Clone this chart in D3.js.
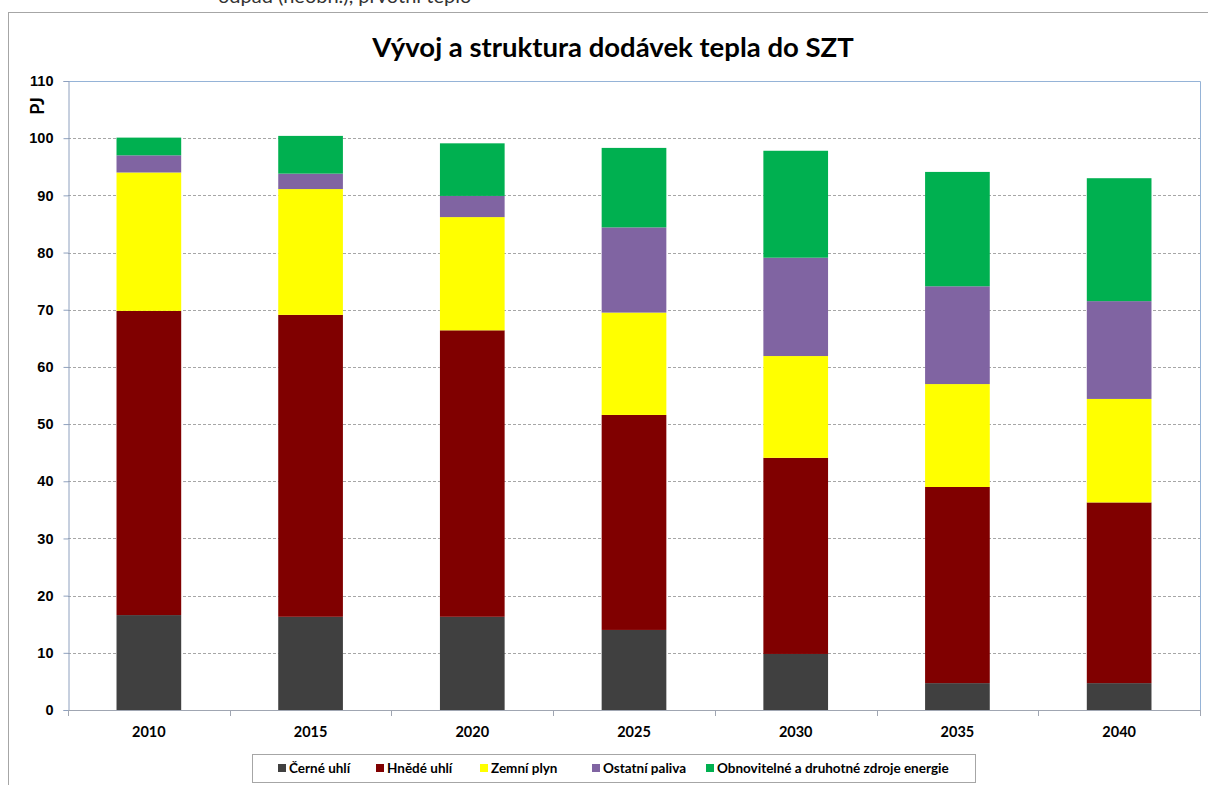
<html lang="cs">
<head>
<meta charset="utf-8">
<title>Vývoj a struktura dodávek tepla do SZT</title>
<style>
  body { margin: 0; background: white; }
  svg { display: block; font-family: Lato, "Open Sans", sans-serif; }
  .grid line { stroke: #a6a6a6; stroke-dasharray: 3,2; }
  .axis text { font-weight: bold; font-size: 14.5px; fill: #000; }
  .legend text { font-size: 13.5px; font-weight: bold; fill: #000; }
</style>
</head>
<body>
<script src="https://cdn.jsdelivr.net/npm/d3@7"></script>
<script>
// data (PJ)
var years = ["2010", "2015", "2020", "2025", "2030", "2035", "2040"];
var seriesNames = ["Černé uhlí", "Hnědé uhlí", "Zemní plyn", "Ostatní paliva", "Obnovitelné a druhotné zdroje energie"];
var cerneUhli   = [16.6, 16.3, 16.3, 14.0,  9.8,  4.7,  4.7];
var hnedeUhli   = [53.2, 52.8, 50.1, 37.6, 34.3, 34.3, 31.6];
var zemniPlyn   = [24.2, 22.0, 19.8, 17.9, 17.8, 18.0, 18.1];
var ostatni     = [ 3.0,  2.7,  3.7, 14.9, 17.2, 17.1, 17.1];
var obnovitelne = [ 3.1,  6.6,  9.2, 13.9, 18.7, 20.0, 21.5];
var yTicks = [0, 10, 20, 30, 40, 50, 60, 70, 80, 90, 100, 110];
var colors = ["#404040", "#800000", "#ffff00", "#8064a2", "#00b050"];

var W = 1208, H = 785;
var plot = {left: 68, top: 81, right: 1200, bottom: 710};

var svg = d3.select("body").append("svg")
    .attr("width", W).attr("height", H);

// caption left over above the chart, cut by the top edge as in the source
svg.append("text")
    .attr("x", 218).attr("y", 3)
    .attr("font-size", 20).attr("fill", "#333")
    .text("odpad (neobn.), prvotní teplo");

// chart area frame
svg.append("rect")
    .attr("x", 8.5).attr("y", 12.5)
    .attr("width", 1400).attr("height", 900)
    .attr("fill", "white").attr("stroke", "#a6a6a6");

svg.append("text")
    .attr("x", 613).attr("y", 57)
    .attr("text-anchor", "middle")
    .attr("font-size", 27.5).attr("font-weight", "bold")
    .text("Vývoj a struktura dodávek tepla do SZT");

var table = years.map(function(y, i) {
  return {year: y, s0: cerneUhli[i], s1: hnedeUhli[i], s2: zemniPlyn[i], s3: ostatni[i], s4: obnovitelne[i]};
});
var keys = ["s0", "s1", "s2", "s3", "s4"];
var stacked = d3.stack().keys(keys)(table);

var x = d3.scaleBand().domain(years)
    .range([plot.left, plot.right])
    .paddingInner(0.6).paddingOuter(0.3);
var y = d3.scaleLinear().domain([0, 110]).range([plot.bottom, plot.top]);

// gridlines
svg.append("g").attr("class", "grid")
  .selectAll("line").data(yTicks.filter(function(d) { return d > 0 && d < 110; }))
  .enter().append("line")
    .attr("x1", plot.left).attr("x2", plot.right)
    .attr("y1", function(d) { return Math.round(y(d)) + 0.5; })
    .attr("y2", function(d) { return Math.round(y(d)) + 0.5; });

// plot area border (top + right)
svg.append("path")
    .attr("d", "M" + plot.left + "," + (plot.top + 0.5) + "H" + (plot.right + 0.5) + "V" + plot.bottom)
    .attr("fill", "none").attr("stroke", "#95b3d7");

// bars
svg.append("g").selectAll("g").data(stacked).enter().append("g")
    .attr("fill", function(d, i) { return colors[i]; })
  .selectAll("rect").data(function(d) { return d; }).enter().append("rect")
    .attr("x", function(d) { return x(d.data.year); })
    .attr("width", x.bandwidth())
    .attr("y", function(d) { return y(d[1]); })
    .attr("height", function(d) { return y(d[0]) - y(d[1]); });

// y axis
var yAxis = d3.axisLeft(y).tickValues(yTicks).tickSize(5).tickPadding(10);
var gy = svg.append("g").attr("class", "axis")
    .attr("transform", "translate(" + (plot.left + 0.5) + ",0)")
    .call(yAxis);
gy.select(".domain").attr("stroke", "#8ea0be");
gy.selectAll(".tick line").attr("stroke", "#8ea0be");

svg.append("text")
    .attr("transform", "translate(44,106) rotate(-90)")
    .attr("text-anchor", "middle")
    .attr("font-size", 18).attr("font-weight", "bold")
    .text("PJ");

// x axis: ticks on band edges, labels in band centres
var step = x.step();
var edges = d3.range(years.length + 1).map(function(i) { return plot.left + i * step; });
var gx = svg.append("g").attr("class", "axis");
gx.append("line")
    .attr("x1", plot.left).attr("x2", plot.right)
    .attr("y1", plot.bottom + 0.5).attr("y2", plot.bottom + 0.5)
    .attr("stroke", "#a0a6b2");
gx.selectAll(".edge").data(edges).enter().append("line")
    .attr("x1", function(d) { return Math.round(d) + 0.5; })
    .attr("x2", function(d) { return Math.round(d) + 0.5; })
    .attr("y1", plot.bottom).attr("y2", plot.bottom + 6)
    .attr("stroke", "#a0a6b2");
gx.selectAll(".lbl").data(years).enter().append("text")
    .attr("x", function(d) { return x(d) + x.bandwidth() / 2; })
    .attr("y", 737)
    .attr("text-anchor", "middle")
    .text(function(d) { return d; });

// legend
var legend = svg.append("g").attr("class", "legend");
legend.append("rect")
    .attr("x", 252.5).attr("y", 754.5).attr("width", 723).attr("height", 28)
    .attr("fill", "white").attr("stroke", "#a6a6a6");
var lx = [278, 376, 480, 592, 706];
var item = legend.selectAll(".item").data(seriesNames).enter().append("g")
    .attr("transform", function(d, i) { return "translate(" + lx[i] + ",0)"; });
item.append("rect")
    .attr("x", 0).attr("y", 764).attr("width", 8).attr("height", 8)
    .attr("fill", function(d, i) { return colors[i]; });
item.append("text")
    .attr("x", 11).attr("y", 773)
    .text(function(d) { return d; });
</script>
</body>
</html>
